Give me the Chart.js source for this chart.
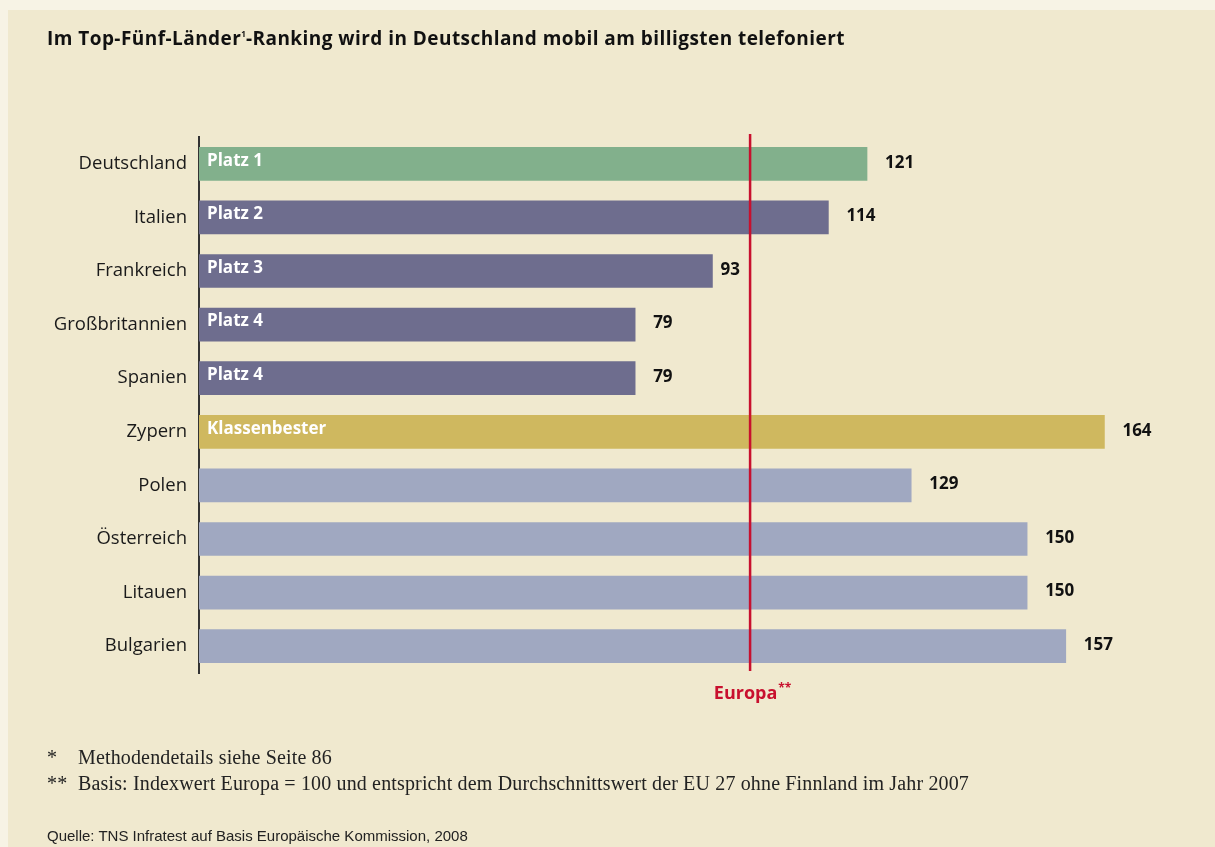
<!DOCTYPE html>
<html lang="de">
<head>
<meta charset="utf-8">
<title>Mobilfunkpreise im Ländervergleich</title>
<script src="https://cdn.jsdelivr.net/npm/chart.js@4/dist/chart.umd.min.js"></script>
<style>
  html, body { margin: 0; padding: 0; }
  body { width: 1215px; height: 847px; background: #f7f3e5; position: relative; overflow: hidden; }
  #panel { position: absolute; left: 8px; top: 10px; right: 0; bottom: 0; background: #f0e9cf; }
  #chart { position: absolute; left: 0; top: 0; }
  .txt { position: absolute; color: #111; white-space: nowrap; }
  #title { left: 47px; top: 25px; font: bold 19px "Open Sans", sans-serif; letter-spacing: 0.45px; }
  #title sup { font-size: 8px; vertical-align: 8px; letter-spacing: 0; }
  .note { font: 20px "Liberation Serif", serif; color: #222; letter-spacing: 0.15px; }
  .note .star { display: inline-block; width: 31px; }
  #n1 { left: 47px; top: 746px; }
  #n2 { left: 47px; top: 772px; }
  #source { left: 47px; top: 827px; font: 15px "Liberation Sans", sans-serif; color: #222; }
</style>
</head>
<body>
<div id="panel"></div>
<canvas id="chart" width="1215" height="847"></canvas>
<div class="txt" id="title">Im Top-Fünf-Länder<sup>1</sup>-Ranking wird in Deutschland mobil am billigsten telefoniert</div>
<div class="txt note" id="n1"><span class="star">*</span>Methodendetails siehe Seite 86</div>
<div class="txt note" id="n2"><span class="star">**</span>Basis: Indexwert Europa = 100 und entspricht dem Durchschnittswert der EU 27 ohne Finnland im Jahr 2007</div>
<div class="txt" id="source">Quelle: TNS Infratest auf Basis Europäische Kommission, 2008</div>

<script>
// Preisindex Mobilfunk, Europa = 100
const countries = ['Deutschland', 'Italien', 'Frankreich', 'Großbritannien', 'Spanien',
                   'Zypern', 'Polen', 'Österreich', 'Litauen', 'Bulgarien'];
const indexValues = [121, 114, 93, 79, 79, 164, 129, 150, 150, 157];
const barTags = ['Platz 1', 'Platz 2', 'Platz 3', 'Platz 4', 'Platz 4', 'Klassenbester', '', '', '', ''];
const barColors = ['#82b08c', '#6e6d8e', '#6e6d8e', '#6e6d8e', '#6e6d8e',
                   '#cfb85f', '#a0a8c1', '#a0a8c1', '#a0a8c1', '#a0a8c1'];
const europeIndex = 100;

// Europa-Linie, Beschriftung in und hinter den Balken
const overlayPlugin = {
  id: 'overlay',
  afterDatasetsDraw(chart) {
    const { ctx, chartArea, scales } = chart;
    const meta = chart.getDatasetMeta(0);
    const x = scales.x.getPixelForValue(europeIndex) - 1;
    ctx.save();
    ctx.textBaseline = 'middle';
    meta.data.forEach((bar, i) => {
      if (barTags[i]) {
        ctx.fillStyle = '#ffffff';
        ctx.font = 'bold 17px "Open Sans", sans-serif';
        ctx.textAlign = 'left';
        ctx.fillText(barTags[i], bar.base + 8, bar.y - 3);
      }
      ctx.fillStyle = '#111111';
      ctx.font = 'bold 17px "Open Sans", sans-serif';
      const label = String(indexValues[i]);
      let lx = bar.x + 18;
      // Zahl rückt näher an den Balken, wenn sie sonst die Europa-Linie träfe
      if (bar.x < x && lx + ctx.measureText(label).width > x - 4) lx = bar.x + 8;
      ctx.fillText(label, lx, bar.y - 1);
    });

    ctx.strokeStyle = '#c8102e';
    ctx.lineWidth = 2.5;
    ctx.beginPath();
    ctx.moveTo(x, chartArea.top - 3);
    ctx.lineTo(x, chartArea.bottom - 2);
    ctx.stroke();

    ctx.fillStyle = '#c8102e';
    ctx.font = 'bold 18px "Open Sans", sans-serif';
    ctx.textAlign = 'left';
    const w = ctx.measureText('Europa').width;
    ctx.font = 'bold 12px "Open Sans", sans-serif';
    const ws = ctx.measureText('**').width;
    const start = x - (w + ws) / 2 + 2;
    ctx.font = 'bold 18px "Open Sans", sans-serif';
    ctx.fillText('Europa', start, chartArea.bottom + 21);
    ctx.font = 'bold 12px "Open Sans", sans-serif';
    ctx.fillText('**', start + w + 1, chartArea.bottom + 16);
    ctx.restore();
  }
};

new Chart(document.getElementById('chart'), {
  type: 'bar',
  data: {
    labels: countries,
    datasets: [{
      data: indexValues,
      backgroundColor: barColors,
      barThickness: 33,
      borderWidth: 0
    }]
  },
  options: {
    indexAxis: 'y',
    responsive: false,
    animation: false,
    layout: { padding: { top: 137, bottom: 174, right: 25, left: 0 } },
    plugins: { legend: { display: false }, tooltip: { enabled: false } },
    scales: {
      x: { display: false, min: 0, max: 179.5 },
      y: {
        afterFit(scale) { scale.width = 199; },
        grid: { display: false, drawTicks: false },
        border: { display: true, color: '#333333', width: 2 },
        ticks: {
          padding: 12,
          color: '#1a1a1a',
          font: { family: '"Open Sans", sans-serif', size: 18.5 }
        }
      }
    }
  },
  plugins: [overlayPlugin]
});
</script>
</body>
</html>
